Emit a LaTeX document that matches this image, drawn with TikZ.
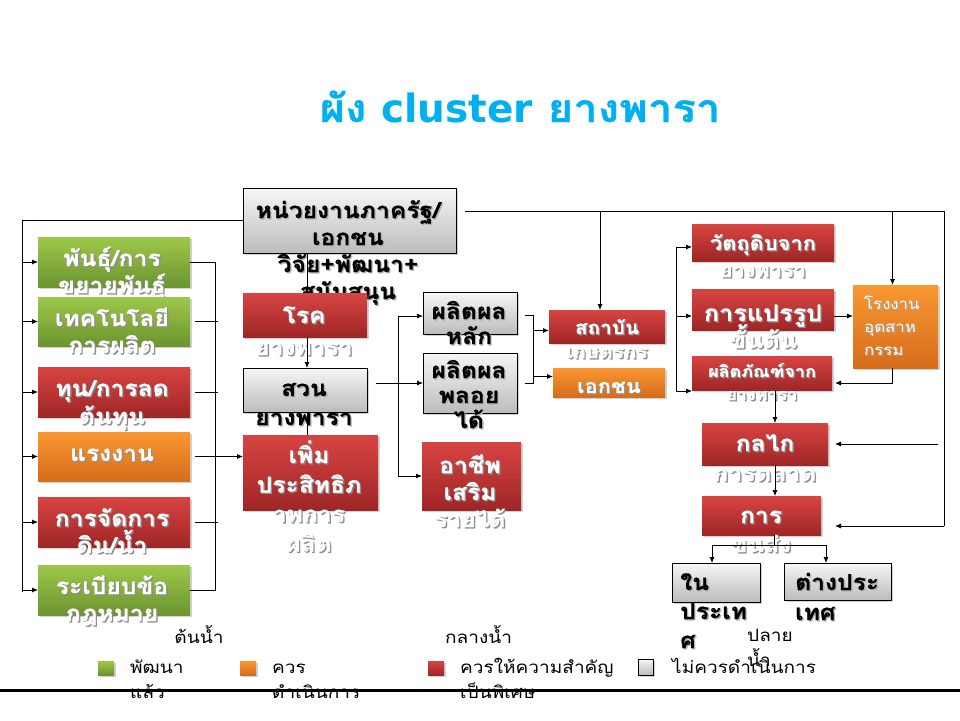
\documentclass[tikz,border=0pt]{standalone}
\usepackage{fontspec}
\setmainfont[Script=Thai, FakeStretch=1.12, BoldFeatures={FakeBold=0.6}]{Loma}
\newfontfamily\latinb{DejaVu Sans}
\usetikzlibrary{shadows,arrows.meta}
\definecolor{redA}{RGB}{216,68,66}
\definecolor{redB}{RGB}{158,38,38}
\definecolor{grnA}{RGB}{158,200,74}
\definecolor{grnB}{RGB}{108,148,48}
\definecolor{orA}{RGB}{250,152,50}
\definecolor{orB}{RGB}{214,108,28}
\definecolor{gyA}{RGB}{246,246,246}
\definecolor{gyB}{RGB}{188,188,188}
\definecolor{titlecol}{RGB}{0,176,240}
\newcommand\bx[6]{\node[#2, minimum width={(#5-#3)*1pt}, minimum height={(#6-#4)*1pt}, anchor=north west] (#1) at (#3,#4) {};}
\newcommand\boxtext[7]{%
  \foreach \lineT [count=\i] in {#7}{%
    \node[anchor=base, #5, text=#6] (#1s\i) at ({#2+1.3},{#4*(\i-1)+#3+1.3}) {\lineT};
    \node[anchor=base, #5] (#1\i) at ({#2},{#4*(\i-1)+#3}) {\lineT};
  }}
\newcommand\plaintext[5]{%
  \foreach \lineT [count=\i] in {#5}{%
    \node[anchor=base west, legtext] (#1\i) at ({#2},{#4*(\i-1)+#3}) {\lineT};
  }}
\tikzset{
  boxbase/.style={inner sep=0pt, outer sep=0pt, drop shadow={shadow xshift=2pt, shadow yshift=-2pt, opacity=0.35}},
  redbox/.style={boxbase, top color=redA, bottom color=redB},
  greenbox/.style={boxbase, top color=grnA, bottom color=grnB},
  orangebox/.style={boxbase, top color=orA, bottom color=orB},
  graybox/.style={boxbase, draw=black, line width=0.8pt, top color=gyA, bottom color=gyB},
  wt/.style={inner sep=0pt, font=\bfseries\fontsize{22}{26}\selectfont, text=white},
  bt/.style={inner sep=0pt, font=\bfseries\fontsize{22}{26}\selectfont, text=black},
  legtext/.style={inner sep=0pt, font=\fontsize{17}{20}\selectfont, text=black},
  conn/.style={line width=0.8pt, draw=black},
  arr/.style={conn, -{Latex[length=6pt,width=5pt]}},
}
\begin{document}
\begin{tikzpicture}[x=1pt,y=-1pt]
\path[use as bounding box, fill=white] (0,0) rectangle (960,720);
% title
\node[anchor=base, inner sep=0pt, text=titlecol, font=\bfseries\fontsize{39}{44}\selectfont] (title) at (520,122) {ผัง {\latinb cluster} ยางพารา};
% government box
\bx{gov}{graybox}{243}{188}{456}{253}
\boxtext{govt}{348}{218}{27}{bt}{black!30}{หน่วยงานภาครัฐ/,เอกชน,วิจัย+พัฒนา+,สนับสนุน}
% left column
\bx{b1}{greenbox}{38}{237}{190}{287}
\boxtext{b1t}{112}{266}{27}{wt}{black!45}{พันธุ์/การ,ขยายพันธุ์}
\bx{b2}{greenbox}{38}{297}{190}{346}
\boxtext{b2t}{112}{326}{27}{wt}{black!45}{เทคโนโลยี,การผลิต}
\bx{b3}{redbox}{38}{367}{190}{417}
\boxtext{b3t}{112}{396}{28}{wt}{black!45}{ทุน/การลด,ต้นทุน}
\bx{b4}{orangebox}{38}{432}{190}{481}
\boxtext{b4t}{112}{461}{27}{wt}{black!45}{แรงงาน}
\bx{b5}{redbox}{38}{497}{190}{547}
\boxtext{b5t}{112}{526}{27}{wt}{black!45}{การจัดการ,ดิน/น้ำ}
\bx{b6}{greenbox}{38}{565}{190}{615}
\boxtext{b6t}{112}{594}{27}{wt}{black!45}{ระเบียบข้อ,กฎหมาย}
% middle column
\bx{roke}{redbox}{243}{293}{367}{337}
\boxtext{roket}{304}{323}{32}{wt}{black!45}{โรค,ยางพารา}
\bx{suan}{graybox}{243}{368}{367}{412}
\boxtext{suant}{304}{396}{29}{bt}{black!30}{สวน,ยางพารา}
\bx{perm}{redbox}{243}{435}{378}{510}
\boxtext{permt}{309}{463}{29.5}{wt}{black!45}{เพิ่ม,ประสิทธิภ,าพการ,ผลิต}
\bx{pl}{graybox}{423}{292}{517}{334}
\boxtext{plt}{469}{319}{25}{bt}{black!30}{ผลิตผล,หลัก}
\bx{pby}{graybox}{423}{353}{517}{413}
\boxtext{pbyt}{469}{378}{25}{bt}{black!30}{ผลิตผล,พลอย,ได้}
\bx{ach}{redbox}{422}{442}{521}{510}
\boxtext{acht}{470}{473}{27}{wt}{black!45}{อาชีพ,เสริม,รายได้}
\bx{sta}{redbox}{549}{310}{665}{343}
\boxtext{stat}{607}{334}{24}{wt,font=\bfseries\fontsize{18.5}{22}\selectfont}{black!45}{สถาบัน,เกษตรกร}
\bx{ekc}{orangebox}{553}{368}{665}{397}
\boxtext{ekct}{609}{393}{24}{wt,font=\bfseries\fontsize{19.5}{22}\selectfont}{black!45}{เอกชน}
% right column
\bx{wat}{redbox}{692}{224}{834}{261}
\boxtext{watt}{763}{250}{27}{wt,font=\bfseries\fontsize{19.5}{22}\selectfont}{black!45}{วัตถุดิบจาก,ยางพารา}
\bx{pr}{redbox}{692}{289}{834}{330}
\boxtext{prt}{763}{321}{27}{wt,font=\bfseries\fontsize{22.5}{26}\selectfont}{black!45}{การแปรรูป,ขั้นต้น}
\bx{pp}{redbox}{692}{356}{832}{390}
\boxtext{ppt}{762}{377}{23}{wt,font=\bfseries\fontsize{16}{20}\selectfont}{black!45}{ผลิตภัณฑ์จาก,ยางพารา}
\bx{rong}{orangebox}{853}{285}{938}{368}
\boxtext{rongt}{864}{309}{23}{wt,anchor=base west,font=\fontsize{15}{18}\selectfont}{black!35}{โรงงาน,อุตสาห,กรรม}
\bx{kl}{redbox}{702}{423}{828}{465}
\boxtext{klt}{765}{451}{30}{wt}{black!45}{กลไก,การตลาด}
\bx{kns}{redbox}{702}{496}{821}{535}
\boxtext{knst}{761}{523}{29}{wt}{black!45}{การ,ขนส่ง}
\bx{nai}{graybox}{672}{563}{760}{602}
\boxtext{nait}{680}{590}{29}{bt,anchor=base west}{black!30}{ใน,ประเท,ศ}
\bx{tang}{graybox}{784}{563}{891}{600}
\boxtext{tangt}{795}{590}{30}{bt,anchor=base west}{black!30}{ต่างประ,เทศ}
% connectors: left side
\coordinate (lbus) at (22,592);
\draw[conn] (gov.west) -| (lbus);
\foreach \b in {b1,b2,b3,b4,b5,b6}{\draw[arr] (lbus |- \b.west) -- (\b.west);}
\coordinate (rbus) at (215,0);
\draw[conn] (b1.east) -- (rbus |- b1.east) -- (rbus |- b6.east) -- (b6.east);
\foreach \b in {b2,b3,b5}{\draw[conn] ([xshift=5pt]\b.east) -- ([xshift=28pt]\b.east);}
\draw[arr] ([xshift=5pt]b4.east) -- (perm.west |- b4.east);
% middle chain
\draw[arr] ([xshift=2pt]roke.north |- gov.south) -- ([xshift=2pt]roke.north);
\draw[arr] ([xshift=2pt]roke.south) -- ([xshift=2pt]roke.south |- suan.north);
\draw[conn] ([xshift=2pt]suan.south) -- ([xshift=2pt]suan.south |- perm.north);
\draw[arr] ([xshift=9pt]suan.east |- pby.west) -- (pby.west);
\coordinate (mbus) at (398,0);
\draw[arr] (mbus |- ach.west) -- (ach.west);
\draw[arr] (mbus |- ach.west) |- ([yshift=-3pt]pl.west);
% bracket to institutions
\coordinate (bbus) at (533,0);
\coordinate (plo) at ([xshift=8pt,yshift=-2pt]pl.east);
\coordinate (pbo) at ([xshift=8pt]pby.east);
\coordinate (sti) at ([yshift=-4pt]sta.west);
\coordinate (eki) at ([yshift=6pt]ekc.west);
\draw[conn] (plo) -- (bbus |- plo) -- (bbus |- pbo) -- (pbo);
\draw[arr] (bbus |- sti) -- (sti);
\draw[arr] (bbus |- eki) -- (eki);
% top line
\coordinate (tl) at (465,211);
\coordinate (tr) at (944,211);
\coordinate (kin) at ([xshift=14pt,yshift=-10.5pt]kns.east);
\draw[conn] (tl) -- (tr) -- (tr |- kin);
\draw[arr] (tr |- kin) -- (kin);
\draw[arr] ([xshift=-7pt]sta.north |- tl) -- ([xshift=-7pt]sta.north);
\draw[arr] ([xshift=-3pt]rong.north |- tl) -- ([xshift=-3pt]rong.north);
\coordinate (klin) at ([xshift=7pt]kl.east);
\draw[arr] ([xshift=-6pt]tr |- klin) -- (klin);
% right column
\coordinate (rcol) at (676,0);
\coordinate (a1) at ([yshift=-4.5pt]wat.west);
\coordinate (a2) at ([yshift=-6.5pt]pr.west);
\coordinate (a3) at ([yshift=-18pt]pp.west);
\draw[conn] (rcol |- a1) -- (rcol |- a3);
\foreach \a in {a1,a2,a3}{\draw[arr] (rcol |- \a) -- (\a);}
\draw[arr] (pr.east |- a2) -- (rong.west |- a2);
\draw[arr] ([xshift=-3pt]rong.south) |- ([xshift=3pt,yshift=-10pt]pp.east);
\draw[arr] ([xshift=10pt]kl.north |- pp.south) -- ([xshift=10pt]kl.north);
\draw[arr] ([xshift=10pt]kl.south) -- ([xshift=10pt]kl.south |- kns.north);
\coordinate (split) at ([xshift=13pt,yshift=-10pt]kns.south);
\draw[conn] ([xshift=13pt]kns.south) -- (split);
\draw[arr] (split) -| ([xshift=-4pt]nai.north);
\draw[arr] (split) -| ([xshift=-11.5pt]tang.north);
% section labels
\node[anchor=base, legtext] (sec1) at (199,643) {ต้นน้ำ};
\node[anchor=base west, legtext] (sec2) at (445,643) {กลางน้ำ};
\plaintext{sec3}{747}{641}{25}{ปลาย,น้ำ}
% legend
\bx{lg}{greenbox}{98}{661}{114}{675}
\bx{lo}{orangebox}{240}{661}{256}{675}
\bx{lr}{redbox}{428}{661}{444}{675}
\bx{lgr}{graybox}{638}{659}{653}{675}
\plaintext{lgt}{130}{673}{25}{พัฒนา,แล้ว}
\plaintext{lot}{272}{673}{25}{ควร,ดำเนินการ}
\plaintext{lrt}{460}{673}{25}{ควรให้ความสำคัญ,เป็นพิเศษ}
\plaintext{lgrt}{672}{673}{25}{ไม่ควรดำเนินการ}
\draw[line width=3pt] (0,690) -- (960,690);
\end{tikzpicture}
\end{document}
